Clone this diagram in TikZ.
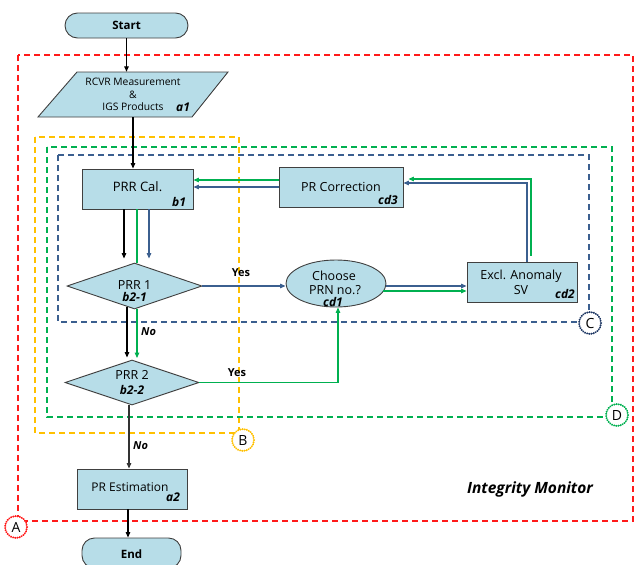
\documentclass[tikz,border=0pt]{standalone}
\usepackage{fontspec}
\setmainfont{Open Sans}
\usetikzlibrary{shapes.geometric,arrows.meta,calc}
\definecolor{boxfill}{HTML}{B7DDE8}
\definecolor{boxline}{HTML}{404040}
\definecolor{lblue}{HTML}{3B5F8F}
\definecolor{lgreen}{HTML}{00B050}
\definecolor{lyellow}{HTML}{FFC000}
\definecolor{lred}{HTML}{FF1A1A}
\definecolor{ringblue}{HTML}{1F3864}
\begin{document}
\begin{tikzpicture}[x=1pt,y=-1pt,
  box/.style={draw=boxline, fill=boxfill, line width=0.9pt, inner sep=0pt},
  pill/.style={box, rounded corners=12.5pt},
  lbl/.style={font=\fontsize{12.5}{14}\selectfont, inner sep=0pt, align=center},
  smalllbl/.style={font=\fontsize{10.3}{12.5}\selectfont, inner sep=0pt, align=center},
  tag/.style={font=\fontsize{12}{12}\selectfont\bfseries\itshape, inner sep=0pt},
  yn/.style={font=\fontsize{11}{12}\selectfont\bfseries, inner sep=0pt},
  arr/.style={-{Triangle[length=5.5pt,width=4.5pt]}, line width=1.2pt},
  zone/.style={dash pattern=on 6pt off 4pt, line width=1.4pt},
  ring/.style={circle, minimum size=22pt, inner sep=0pt, line width=2.2pt,
    dash pattern=on 0.01pt off 2.2pt, line cap=round,
    font=\fontsize{14}{14}\selectfont}]
\useasboundingbox (0,0) rectangle (635,565);

% zones
\draw[zone, lred] (18,55) rectangle (633,521);
\draw[zone, lyellow] (35,137) rectangle (239,433);
\draw[zone, lgreen] (47,147) rectangle (612,417);
\draw[zone, lblue] (58,155) rectangle (589,322);

\node[ring, draw=lred, fill=white] (A) at (16,527) {A};
\node[ring, draw=lyellow, fill=white] (B) at (243,440) {B};
\node[ring, draw=ringblue, fill=white] (C) at (590,323) {C};
\node[ring, draw=lgreen, fill=white] (D) at (617,415) {D};

% nodes
\node[pill, minimum width=123, minimum height=25] (start) at (126.5,25.5) {};
\node[font=\fontsize{11.5}{12}\selectfont\bfseries, inner sep=0pt] at (126.5,25.5) {Start};

\filldraw[draw=boxline, fill=boxfill, line width=0.9pt] (77,72) -- (228,72) -- (192,117) -- (38,117) -- cycle;
\node[smalllbl, minimum width=100, minimum height=45] (a1) at (133,94.5) {RCVR Measurement\\\&\\IGS Products};
\node[tag] at (183,107) {a1};

\node[box, minimum width=111, minimum height=40] (b1) at (137.5,189) {};
\node[lbl, font=\fontsize{13}{14}\selectfont] at (137.5,187) {PRR Cal.};
\node[tag] at (179,202) {b1};

\node[box, minimum width=124, minimum height=40] (cd3) at (341,187) {};
\node[lbl] at (341,187) {PR Correction};
\node[tag] at (388,200) {cd3};

\node[box, minimum width=110, minimum height=40] (cd2) at (522,282) {};
\node[lbl] at (521,276) {Excl. Anomaly};
\node[lbl] at (521,290) {SV};
\node[tag] at (565,294) {cd2};

\node[ellipse, draw=boxline, fill=boxfill, line width=0.9pt, inner sep=0pt,
  minimum width=100, minimum height=47] (cd1) at (336,283.5) {};
\node[lbl] at (334,276) {Choose};
\node[lbl] at (335,290) {PRN no.?};
\node[tag] at (333,302) {cd1};

\node[diamond, draw=boxline, fill=boxfill, line width=0.9pt, inner sep=0pt,
  minimum width=135, minimum height=46] (b21) at (134.5,286) {};
\node[lbl] at (134.5,285) {PRR 1};
\node[tag] at (134.5,297) {b2-1};

\node[diamond, draw=boxline, fill=boxfill, line width=0.9pt, inner sep=0pt,
  minimum width=134, minimum height=45] (b22) at (132,382.5) {};
\node[lbl] at (132,375) {PRR 2};
\node[tag] at (132,390) {b2-2};

\node[box, minimum width=110, minimum height=40] (a2) at (132,489) {};
\node[smalllbl, font=\fontsize{12}{12}\selectfont] at (130,487) {PR Estimation};
\node[tag] at (173,497) {a2};

\node[pill, minimum width=99, minimum height=30] (end) at (131.5,553) {};
\node[font=\fontsize{11.5}{12}\selectfont\bfseries, inner sep=0pt] at (131.5,554) {End};

\node[font=\fontsize{15.5}{16}\selectfont\bfseries\itshape, inner sep=0pt] (im) at (530,489) {Integrity Monitor};

% connectors
\draw[arr, black] (start.south) -- (start.south |- a1.north);
\draw[arr, black] (a1.south) -- (a1.south |- b1.north);

\draw[arr, black] ($(b1.south)+(-13.5,0)$) -- ($(b21.north)+(-10.5,-4)$);
\draw[line width=1.2pt, lgreen] ($(b1.south)+(-0.5,0)$) -- ($(b21.north)+(2.5,0.8)$);
\draw[arr, lblue] ($(b1.south)+(11.5,0)$) -- ($(b21.north)+(14.5,-4)$);

\draw[arr, black] ($(b21.south)+(-7.5,-2.5)$) -- ($(b22.north)+(-5,-2)$);
\draw[arr, lgreen] ($(b21.south)+(2.5,-0.8)$) -- ($(b22.north)+(5,-1.5)$);
\node[yn, font=\fontsize{11}{12}\selectfont\bfseries\itshape, anchor=west] at (141,332) {No};

\draw[arr, lblue] (b21.east) -- (b21.east -| cd1.west);
\node[yn] at (241,273) {Yes};

\draw[arr, lgreen] (b22.east) -| ($(cd1.south)+(2,0)$);
\node[yn] at (237,373) {Yes};

\draw[arr, lblue] ($(cd1.east)+(0,2.5)$) -- ($(cd2.west)+(0,4)$);
\draw[arr, lgreen] ($(cd1.east)+(-3,7.5)$) -- ($(cd2.west)+(0,9)$);

\draw[arr, lblue] ($(cd2.north)+(5,0)$) |- ($(cd3.east)+(0,-4)$);
\draw[arr, lgreen] ($(cd2.north)+(9,-6)$) |- ($(cd3.east)+(5,-8)$);

\draw[arr, lgreen] ($(cd3.west)+(0,-7)$) -- ($(b1.east)+(0,-9)$);
\draw[arr, lblue] ($(cd3.west)+(0,0)$) -- ($(b1.east)+(0,-2)$);

\draw[arr, black!80] ($(b22.south)+(-3,0)$) -- ($(a2.north)+(-3,0)$);
\node[yn, font=\fontsize{11}{12}\selectfont\bfseries\itshape, anchor=west] at (133,446) {No};

\draw[arr, black] ($(a2.south)+(-4,0)$) -- ($(end.north)+(-3.5,0)$);
\end{tikzpicture}
\end{document}
